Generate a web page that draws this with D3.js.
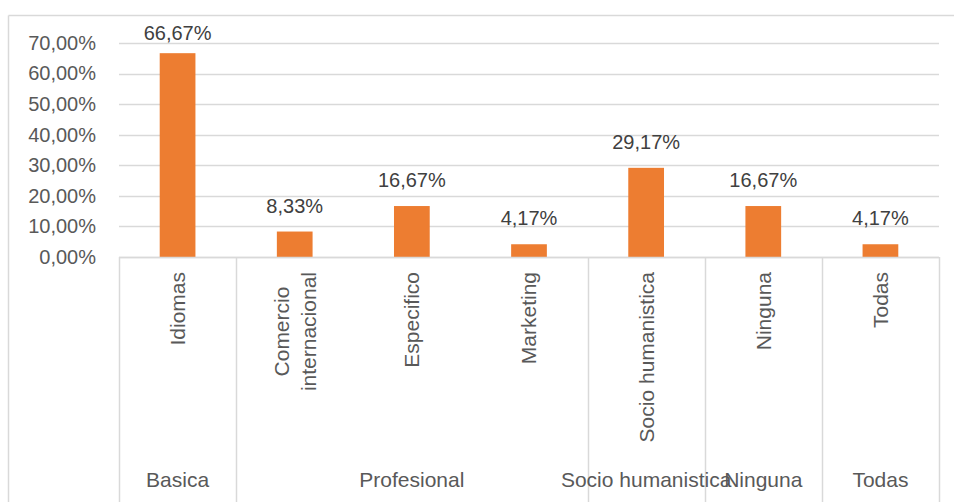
<!DOCTYPE html>
<html>
<head>
<meta charset="utf-8">
<script src="https://cdn.jsdelivr.net/npm/d3@7"></script>
<style>
  html, body { margin: 0; padding: 0; background: #fff; }
  svg { display: block; }
  text { font-family: "Liberation Sans", Arial, sans-serif; }
</style>
</head>
<body>
<svg id="chart" width="954" height="502"></svg>
<script>
// Categories (inner level), their groups (outer level) and shares
const categories = ["Idiomas", "Comercio\ninternacional", "Especifico", "Marketing", "Socio humanistica", "Ninguna", "Todas"];
const categoryGroup = ["Basica", "Profesional", "Profesional", "Profesional", "Socio humanistica", "Ninguna", "Todas"];
const groupNames = ["Basica", "Profesional", "Socio humanistica", "Ninguna", "Todas"];
const values = [0.6667, 0.0833, 0.1667, 0.0417, 0.2917, 0.1667, 0.0417];
const tickValues = [0, 0.1, 0.2, 0.3, 0.4, 0.5, 0.6, 0.7];
const tickLabels = ["0,00%", "10,00%", "20,00%", "30,00%", "40,00%", "50,00%", "60,00%", "70,00%"];

const W = 954, H = 502;
const plot = { left: 119, right: 939, top: 43, bottom: 257 };
const gridColor = "#d9d9d9";
const barColor = "#ed7d31";

const locale = d3.formatLocale({ decimal: ",", thousands: ".", grouping: [3], currency: ["", "€"] });
const pct = locale.format(".2%");

const svg = d3.select("#chart");

// chart frame (top and left edges)
svg.append("line").attr("x1", 8.5).attr("x2", W).attr("y1", 15.5).attr("y2", 15.5)
  .attr("stroke", gridColor).attr("stroke-width", 1.5);
svg.append("line").attr("x1", 8.5).attr("x2", 8.5).attr("y1", 15.5).attr("y2", H)
  .attr("stroke", gridColor).attr("stroke-width", 1.5);

const x = d3.scaleBand().domain(d3.range(categories.length)).range([plot.left, plot.right]).padding(0);
const y = d3.scaleLinear().domain([0, 0.7]).range([plot.bottom, plot.top]);

// horizontal gridlines
svg.append("g").selectAll("line").data(tickValues).join("line")
  .attr("x1", plot.left).attr("x2", plot.right)
  .attr("y1", d => Math.round(y(d)) + 0.5).attr("y2", d => Math.round(y(d)) + 0.5)
  .attr("stroke", gridColor).attr("stroke-width", 1.5);

// value axis
const yAxis = svg.append("g").attr("transform", "translate(104,0)")
  .call(d3.axisLeft(y).tickValues(tickValues).tickSize(0).tickPadding(8)
    .tickFormat((d, i) => tickLabels[i]));
yAxis.select(".domain").remove();
yAxis.selectAll("text").attr("fill", "#595959").style("font-size", "20px")
  .style("font-family", "'Liberation Sans', Arial, sans-serif");

// bars
const barW = x.bandwidth() * 0.305;
svg.append("g").selectAll("rect").data(values).join("rect")
  .attr("x", (d, i) => x(i) + (x.bandwidth() - barW) / 2)
  .attr("width", barW)
  .attr("y", d => y(d))
  .attr("height", d => plot.bottom - y(d))
  .attr("fill", barColor);

// data labels, kept below the top of the chart area
svg.append("g").selectAll("text").data(values).join("text")
  .attr("x", (d, i) => x(i) + x.bandwidth() / 2)
  .attr("y", d => Math.max(y(d) - 19, 39.5))
  .attr("text-anchor", "middle")
  .attr("fill", "#404040").style("font-size", "20px")
  .text(d => pct(d));

// category axis: baseline and group separators
const axisG = svg.append("g");
axisG.append("line").attr("x1", plot.left).attr("x2", plot.right)
  .attr("y1", plot.bottom + 0.5).attr("y2", plot.bottom + 0.5)
  .attr("stroke", gridColor).attr("stroke-width", 1.5);

const groupSpans = groupNames.map(g => {
  const idx = categoryGroup.map((c, i) => c === g ? i : -1).filter(i => i >= 0);
  return { name: g, x0: x(idx[0]), x1: x(idx[idx.length - 1]) + x.bandwidth() };
});
const bounds = [groupSpans[0].x0, ...groupSpans.map(s => s.x1)];
axisG.selectAll("line.sep").data(bounds).join("line").attr("class", "sep")
  .attr("x1", d => Math.round(d) + 0.5).attr("x2", d => Math.round(d) + 0.5)
  .attr("y1", plot.bottom).attr("y2", H)
  .attr("stroke", gridColor).attr("stroke-width", 1.5);

// rotated inner-level labels
const labelTop = 272;
const lineGap = 27;
categories.forEach((c, i) => {
  const lines = c.split("\n");
  const cx = x(i) + x.bandwidth() / 2;
  const g = svg.append("g");
  const texts = lines.map((ln, k) => g.append("text")
    .attr("text-anchor", "middle")
    .attr("dy", "0.35em")
    .attr("fill", "#595959").style("font-size", "21px")
    .text(ln));
  const maxLen = d3.max(texts, t => t.node().getComputedTextLength());
  texts.forEach((t, k) => {
    const lx = cx + (k - (lines.length - 1) / 2) * lineGap;
    const ly = labelTop + maxLen / 2;
    t.attr("transform", `translate(${lx},${ly}) rotate(-90)`);
  });
});

// outer-level group labels
svg.append("g").selectAll("text").data(groupSpans).join("text")
  .attr("x", d => (d.x0 + d.x1) / 2)
  .attr("y", 487)
  .attr("text-anchor", "middle")
  .attr("fill", "#595959").style("font-size", "21px")
  .text(d => d.name);
</script>
</body>
</html>
